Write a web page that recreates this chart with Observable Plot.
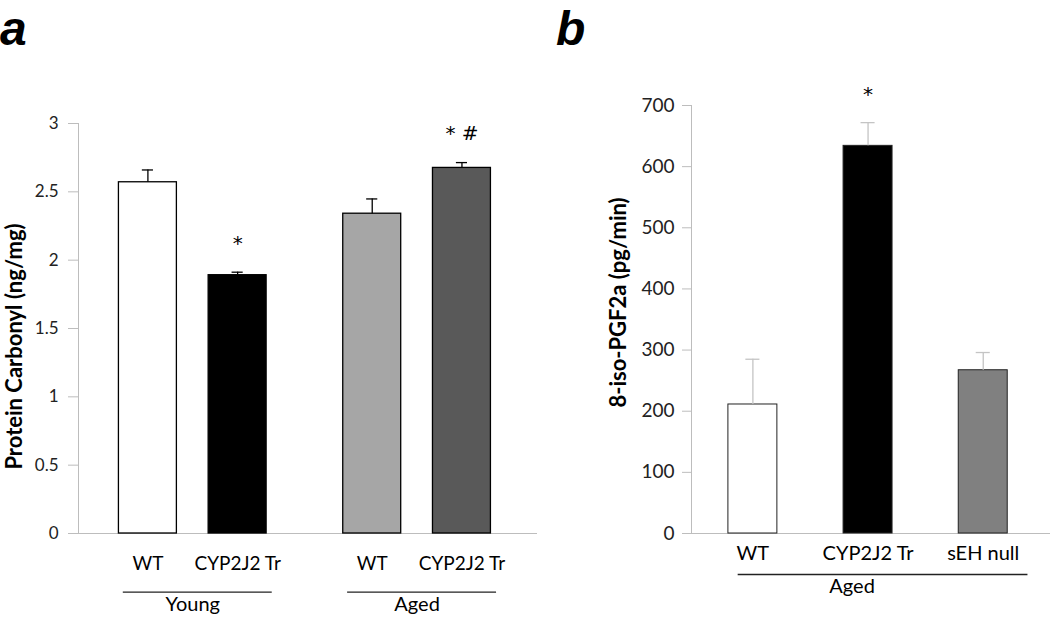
<!DOCTYPE html>
<html>
<head>
<meta charset="utf-8">
<script src="https://cdn.jsdelivr.net/npm/d3@7"></script>
<script src="https://cdn.jsdelivr.net/npm/@observablehq/plot@0.6"></script>
<style>
  html, body { margin: 0; padding: 0; background: #fff; }
  #wrap { position: relative; width: 1050px; height: 617px; overflow: hidden; font-family: Lato, "Open Sans", sans-serif; }
  #panelA { position: absolute; left: 0; top: 0; }
  #panelB { position: absolute; left: 540px; top: 0; }
  #labels { position: absolute; left: 0; top: 0; pointer-events: none; }
</style>
</head>
<body>
<div id="wrap">
  <div id="panelA"></div>
  <div id="panelB"></div>
  <svg id="labels" width="1050" height="617">
    <text x="0" y="45" font-family="'Liberation Sans Narrow', 'Liberation Sans', sans-serif" font-weight="bold" font-style="italic" font-size="48" fill="#000">a</text>
    <text x="556" y="45" font-family="'Liberation Sans Narrow', 'Liberation Sans', sans-serif" font-weight="bold" font-style="italic" font-size="48" fill="#000">b</text>
  </svg>
</div>
<script>
// ---------- Panel a data ----------
const groupsA = ["Young", "Young", "Aged", "Aged"];
const genotypesA = ["WT", "CYP2J2 Tr", "WT", "CYP2J2 Tr"];
const meansA = [2.57, 1.89, 2.34, 2.675];
const errorsA = [0.09, 0.022, 0.108, 0.039];
const sigA = ["", "*", "", "* #"];
const fillsA = ["#ffffff", "#000000", "#a6a6a6", "#595959"];
const yTicksA = [0, 0.5, 1, 1.5, 2, 2.5, 3];
const yLabelA = "Protein Carbonyl (ng/mg)";

// ---------- Panel b data ----------
const groupB = "Aged";
const genotypesB = ["WT", "CYP2J2 Tr", "sEH null"];
const meansB = [211, 634, 267];
const errorsB = [74, 38, 29];
const sigB = ["", "*", ""];
const fillsB = ["#ffffff", "#000000", "#808080"];
const yTicksB = [0, 100, 200, 300, 400, 500, 600, 700];
const yLabelB = "8-iso-PGF2a (pg/min)";

// ---------- Build tables ----------
// slot positions: bars in a group are one slot apart, groups separated by an extra half slot
const groupOrderA = [...new Set(groupsA)];
const dataA = genotypesA.map((g, i) => {
  const gi = groupOrderA.indexOf(groupsA[i]);
  const within = groupsA.slice(0, i).filter(x => x === groupsA[i]).length;
  const pos = gi * 2.5 + within;
  return {group: groupsA[i], genotype: g, mean: meansA[i], err: errorsA[i], top: meansA[i] + errorsA[i], sig: sigA[i], fill: fillsA[i], pos};
});
const groupDataA = groupOrderA.map(g => {
  const ps = dataA.filter(d => d.group === g).map(d => d.pos);
  return {group: g, center: d3.mean(ps)};
});

const dataB = genotypesB.map((g, i) => ({
  genotype: g, mean: meansB[i], err: errorsB[i], top: meansB[i] + errorsB[i], sig: sigB[i], fill: fillsB[i], pos: i
}));
const groupDataB = [{group: groupB, center: d3.mean(dataB, d => d.pos)}];

const FONT = "Lato, 'Open Sans', sans-serif";
const STAR_FONT = "'DejaVu Sans', sans-serif";
const AXIS_GRAY = "#bdbdbd";
const TEXT = "#000";

// ---------- Panel a ----------
const halfA = 0.323, capA = 0.062, groupHalfA = 0.83;
const plotA = Plot.plot({
  width: 540, height: 617,
  marginLeft: 78, marginRight: 3, marginTop: 123, marginBottom: 84,
  style: {fontFamily: FONT, background: "transparent", overflow: "visible"},
  x: {type: "linear", domain: [-0.7735, 4.342], axis: null},
  y: {domain: [0, 3], axis: null},
  color: {type: "identity"},
  marks: [
    Plot.axisY({ticks: yTicksA, tickFormat: d => String(d), tickSize: 10, tickPadding: 10, stroke: AXIS_GRAY, fill: "#222", fontSize: 17, label: null}),
    Plot.ruleX([0], {x: () => -0.7735, y1: 0, y2: 3, stroke: AXIS_GRAY, strokeWidth: 1}),
    Plot.ruleY([0], {stroke: AXIS_GRAY, strokeWidth: 1.2}),
    Plot.rect(dataA, {x1: d => d.pos - halfA, x2: d => d.pos + halfA, y1: 0, y2: "mean", fill: "fill", stroke: "#000", strokeWidth: 1.3}),
    Plot.ruleX(dataA, {x: "pos", y1: "mean", y2: "top", stroke: "#000", strokeWidth: 1.3}),
    Plot.ruleY(dataA, {y: "top", x1: d => d.pos - capA, x2: d => d.pos + capA, stroke: "#000", strokeWidth: 1.3}),
    Plot.text(dataA, {x: "pos", y: "top", text: "sig", dy: -29, fontSize: 20, fontFamily: STAR_FONT, fill: TEXT}),
    Plot.text(dataA, {x: "pos", frameAnchor: "bottom", text: "genotype", dy: 36, fontSize: 19, fill: TEXT}),
    Plot.ruleY(groupDataA, {x1: d => d.center - groupHalfA, x2: d => d.center + groupHalfA, y: () => 0, dy: 58.7, dx: 5, stroke: "#222", strokeWidth: 1.3}),
    Plot.text(groupDataA, {x: "center", frameAnchor: "bottom", text: "group", dy: 77, fontSize: 20, fill: TEXT}),
    Plot.text([yLabelA], {frameAnchor: "left", textAnchor: "middle", text: d => d, rotate: -90, dx: -64, dy: 18, fontSize: 22, fontWeight: "bold", fill: "#000"})
  ]
});
document.getElementById("panelA").appendChild(plotA);

// ---------- Panel b ----------
const halfB = 0.2126, capB = 0.061, groupHalfB = 1.258;
const plotB = Plot.plot({
  width: 510, height: 617,
  marginLeft: 151, marginRight: 0, marginTop: 105, marginBottom: 84,
  style: {fontFamily: FONT, background: "transparent", overflow: "visible"},
  x: {type: "linear", domain: [-0.533, 2.584], axis: null},
  y: {domain: [0, 700], axis: null},
  color: {type: "identity"},
  marks: [
    Plot.axisY({ticks: yTicksB, tickFormat: d => String(d), tickSize: 9, tickPadding: 8, stroke: AXIS_GRAY, fill: "#222", fontSize: 19, label: null}),
    Plot.ruleX([0], {x: () => -0.533, y1: 0, y2: 700, stroke: AXIS_GRAY, strokeWidth: 1}),
    Plot.ruleY([0], {stroke: AXIS_GRAY, strokeWidth: 1.2}),
    Plot.rect(dataB, {x1: d => d.pos - halfB, x2: d => d.pos + halfB, y1: 0, y2: "mean", fill: "fill", stroke: "#222", strokeWidth: 1}),
    Plot.ruleX(dataB, {x: "pos", y1: "mean", y2: "top", stroke: "#c4c4c4", strokeWidth: 1.3}),
    Plot.ruleY(dataB, {y: "top", x1: d => d.pos - capB, x2: d => d.pos + capB, stroke: "#c4c4c4", strokeWidth: 1.3}),
    Plot.text(dataB, {x: "pos", y: "top", text: "sig", dy: -28, fontSize: 20, fontFamily: STAR_FONT, fill: TEXT}),
    Plot.text(dataB, {x: "pos", frameAnchor: "bottom", text: "genotype", dy: 26, fontSize: 20, fill: TEXT}),
    Plot.ruleY(groupDataB, {x1: d => d.center - groupHalfB, x2: d => d.center + groupHalfB, y: () => 0, dy: 41, dx: 15, stroke: "#222", strokeWidth: 1.3}),
    Plot.text(groupDataB, {x: "center", frameAnchor: "bottom", text: "group", dy: 59, dx: -16, fontSize: 20, fill: TEXT}),
    Plot.text([yLabelB], {frameAnchor: "left", textAnchor: "middle", text: d => d, rotate: -90, dx: -73, dy: -17, fontSize: 22, fontWeight: "bold", fill: "#000"})
  ]
});
document.getElementById("panelB").appendChild(plotB);
</script>
</body>
</html>
